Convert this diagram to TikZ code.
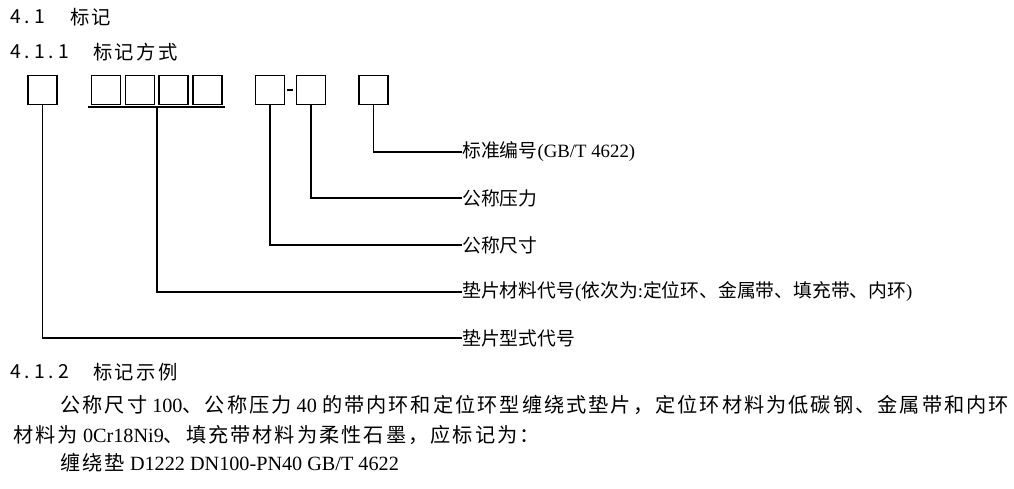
\documentclass[tikz,border=0pt]{standalone}
\usepackage{fontspec}
\setmainfont{Liberation Serif}
\newfontfamily\zh{Noto Sans CJK SC}
\newfontfamily\zhbody[LetterSpace=10]{Noto Sans CJK SC}
\newfontfamily\zhhead[LetterSpace=12]{Noto Sans CJK SC}
\newfontfamily\numhead[LetterSpace=20]{Noto Sans CJK SC}

\begin{document}
\begin{tikzpicture}[
  x=0.02cm, y=-0.02cm,
  box/.style={rectangle, draw=black, line width=0.8pt, minimum width=0.58cm, minimum height=0.59cm, inner sep=0pt},
  lbl/.style={anchor=west, inner sep=0pt, font=\fontsize{10.7pt}{12pt}\selectfont},
  head/.style={anchor=west, inner sep=0pt, font=\fontsize{11pt}{13pt}\selectfont},
  body/.style={anchor=west, inner sep=0pt, font=\fontsize{11.5pt}{13pt}\selectfont},
  conn/.style={-, line width=0.6pt}
  ]
\useasboundingbox (0,0) rectangle (1014,489);

% headings
\node [head] (n41) at (10,17) {\numhead 4.1};
\node [head] (t41) at (70,17) {\zhhead 标记};
\node [head] (n411) at (10,52) {\numhead 4.1.1};
\node [head] (t411) at (93,52) {\zhhead 标记方式};

% boxes
\node [box] (b1) at (42.5,90) {};
\node [box] (g1) at (106,90) {};
\node [box] (g2) at (140,90) {};
\node [box] (g3) at (173.5,90) {};
\node [box] (g4) at (207.5,90) {};
\node [box] (p1) at (270,90) {};
\node [box] (p2) at (311,90) {};
\node [box] (s1) at (373.5,90) {};

\coordinate (ulA) at (88,107);
\coordinate (ulB) at (225,107);
\coordinate (ulM) at (157,107);
\draw [line width=0.8pt] (ulA) -- (ulB);
\draw [conn, line width=0.8pt, shorten <=0.04cm, shorten >=0.06cm] (p1.east) -- (p2.west);

% labels
\node [lbl] (l1) at (462,152) {{\zh 标准编号}(GB/T 4622)};
\node [lbl] (l2) at (462,198) {\zh 公称压力};
\node [lbl] (l3) at (462,245) {\zh 公称尺寸};
\node [lbl] (l4) at (462,292) {{\zh 垫片材料代号}({\zh 依次为}:{\zh 定位环、金属带、填充带、内环})};
\node [lbl] (l5) at (462,338) {\zh 垫片型式代号};

\draw [conn] (s1.south) |- (l1.west);
\draw [conn] (p2.south) |- (l2.west);
\draw [conn] (p1.south) |- (l3.west);
\draw [conn] (ulM) |- (l4.west);
\draw [conn] (b1.south) |- (l5.west);

% example
\node [head] (n412) at (10,372) {\numhead 4.1.2};
\node [head] (t412) at (93,372) {\zhhead 标记示例};
\node [body] (e1) at (60,405) {{\zhbody 公称尺寸} 100{\zhbody 、公称压力} 40 {\zhbody 的带内环和定位环型缠绕式垫片，定位环材料为低碳钢、金属带和内环}};
\node [body] (e2) at (13,435) {{\zhbody 材料为} 0Cr18Ni9{\zhbody 、填充带材料为柔性石墨，应标记为：}};
\node [body] (e3) at (60,463) {{\zhbody 缠绕垫} D1222 DN100-PN40 GB/T 4622};

\end{tikzpicture}
\end{document}
